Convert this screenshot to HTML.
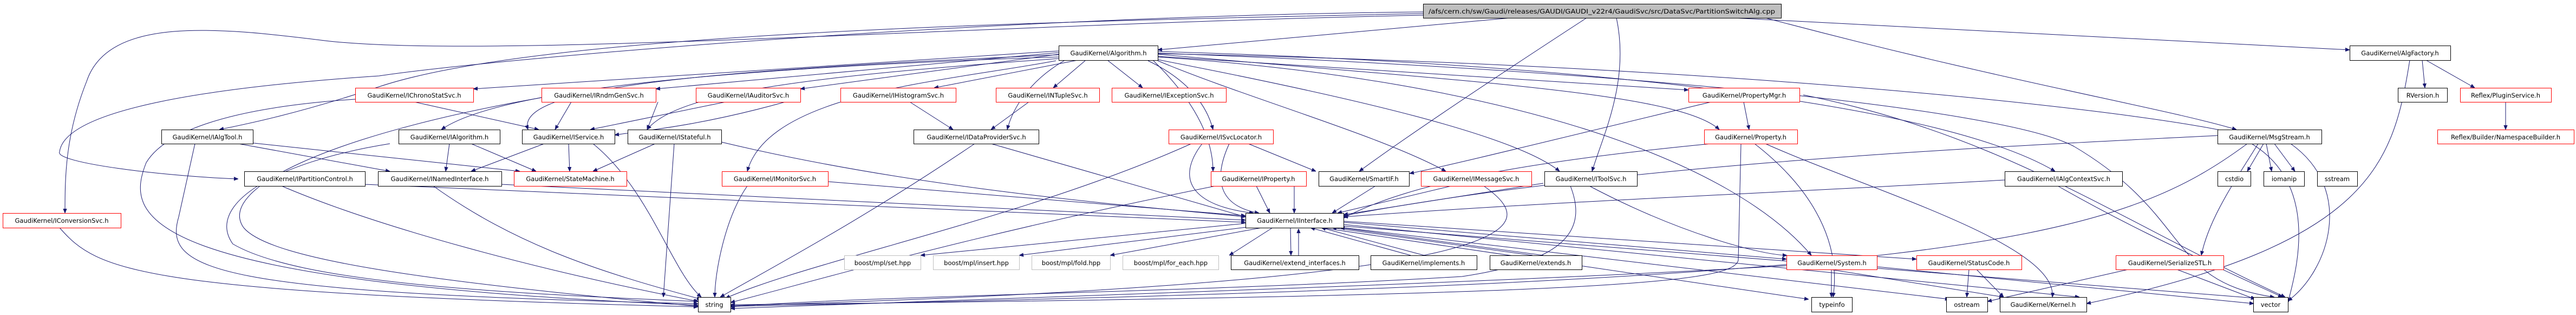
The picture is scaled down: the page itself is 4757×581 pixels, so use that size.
<!DOCTYPE html>
<html><head><meta charset="utf-8"><style>
html,body{margin:0;padding:0;background:#fff;}
svg{display:block;}
text{font-family:"DejaVu Sans","Liberation Sans",sans-serif;font-size:11.5px;fill:#000;}
.e{fill:none;stroke:#191970;stroke-width:1;}
.b{fill:#fff;stroke:#000;stroke-width:1;}
.r{fill:#fff;stroke:#f00;stroke-width:1;}
.g{fill:#fff;stroke:#bfbfbf;stroke-width:1;}
</style></head><body>
<svg width="4757" height="581" viewBox="0 0 4757 581" xmlns="http://www.w3.org/2000/svg">
<defs><marker id="a" viewBox="0 0 10 10" refX="10" refY="5" markerWidth="8" markerHeight="8" orient="auto" markerUnits="userSpaceOnUse"><path d="M0,1 L10,5 L0,9 z" fill="#191970" stroke="#191970"/></marker></defs>
<g class="e" marker-end="url(#a)">
<!-- main -->
<path d="M2790 33 L2138 92"/>
<path d="M3200 33 L4339 92"/>
<path d="M3260 33 C3700 150 4000 200 4130 239"/>
<path d="M2985 33 C3010 150 2960 250 2940 316"/>
<path d="M2930 33 C2750 150 2600 250 2510 316"/>
<path d="M2628 25 C1900 40 1000 60 700 160 C550 210 450 230 405 239"/>
<path d="M2628 28 C1800 45 900 110 600 75 C400 50 200 30 160 150 C120 250 120 330 120 393"/>
<path d="M2628 22 C1800 30 900 110 700 140 C400 160 120 200 110 280 C100 300 300 325 440 330"/>
<!-- Algorithm -->
<path d="M1955 94 L874 164"/>
<path d="M1955 97 L1211 164"/>
<path d="M1955 100 L1478 164"/>
<path d="M1990 111 L1725 162"/>
<path d="M2005 111 L1945 162"/>
<path d="M2045 111 L2110 162"/>
<path d="M2138 104 L3118 166"/>
<path d="M1955 105 C1200 130 900 180 815 239"/>
<path d="M1955 101 C1300 130 950 160 975 239"/>
<path d="M1955 108 C1500 140 1250 170 1195 239"/>
<path d="M1950 112 C1750 150 1420 170 1380 316"/>
<path d="M1965 112 C1900 150 1870 200 1860 239"/>
<path d="M2120 112 C2200 150 2230 200 2240 239"/>
<path d="M2130 112 C2200 180 2240 250 2240 316"/>
<path d="M2138 112 C2300 180 2550 250 2670 316"/>
<path d="M2138 110 C2500 180 2800 250 2880 316"/>
<path d="M2138 100 C2700 150 3100 170 3175 239"/>
<path d="M2138 95 C3000 120 3600 200 3795 316"/>
<path d="M2138 105 C2800 150 3200 300 3345 471"/>
<path d="M2138 98 C3000 130 3700 200 3830 270 C4050 400 4000 520 4200 548"/>
<path d="M2138 99 C3200 120 3900 200 4100 240 C4300 300 4240 500 4225 558"/>
<!-- row 2 -->
<path d="M3220 188 L3230 239"/>
<path d="M3160 188 C2900 250 2700 300 2603 320"/>
<path d="M3330 175 C3700 250 3900 400 4220 548"/>
<path d="M4473 111 L4478 162"/>
<path d="M4480 111 L4570 162"/>
<path d="M4627 188 L4627 239"/>
<path d="M4450 111 C4420 300 4380 450 3853 560"/>
<path d="M765 188 L995 239"/>
<path d="M1055 188 L1025 239"/>
<path d="M1340 188 L1090 239"/>
<path d="M1450 188 C1300 230 1200 240 1135 249"/>
<path d="M1215 188 L1195 239"/>
<path d="M1680 188 L1760 239"/>
<path d="M1900 188 L1830 239"/>
<path d="M656 183 C400 200 300 250 270 300 C230 400 250 520 1289 563"/>
<path d="M1000 180 C600 250 400 350 450 420 C500 480 800 520 1289 565"/>
<!-- row3 to row4 -->
<path d="M360 265 L330 400 C300 500 400 540 1289 560"/>
<path d="M440 265 L720 316"/>
<path d="M450 262 L960 316"/>
<path d="M830 265 L823 316"/>
<path d="M870 265 L990 316"/>
<path d="M720 265 C500 300 380 380 430 450 C550 520 900 540 1289 556"/>
<path d="M1005 265 L870 316"/>
<path d="M1050 265 L1052 316"/>
<path d="M1095 265 C1200 350 1240 500 1295 548"/>
<path d="M1210 265 L1095 316"/>
<path d="M1245 265 L1225 548"/>
<path d="M1332 262 C1700 350 2100 380 2300 400"/>
<path d="M1800 265 C1600 400 1450 480 1330 548"/>
<path d="M1830 265 L2300 400"/>
<path d="M2200 265 C1900 400 1500 480 1340 550"/>
<path d="M2220 265 C2170 330 2200 380 2315 393"/>
<path d="M2270 265 C2240 330 2250 380 2325 393"/>
<path d="M2305 265 L2430 316"/>
<path d="M3160 265 C2800 300 2600 340 2481 402"/>
<path d="M3215 265 L3210 480 C3200 520 3000 545 1349 562"/>
<path d="M3240 265 C3350 350 3400 450 3385 548"/>
<path d="M3260 265 C3450 350 3800 450 3790 548"/>
<path d="M4095 250 C3700 270 3000 300 2481 398"/>
<path d="M4150 265 C3900 450 3600 520 1349 565"/>
<path d="M4180 265 L4150 316"/>
<path d="M4185 265 L4195 316"/>
<path d="M4200 265 L4238 316"/>
<path d="M4170 265 C4130 330 4080 400 4065 471"/>
<path d="M4230 265 C4350 350 4300 500 4225 555"/>
<!-- row4 -->
<path d="M520 343 C700 420 1000 500 1290 556"/>
<path d="M674 340 L2300 410"/>
<path d="M800 343 C950 450 1100 500 1295 552"/>
<path d="M926 340 L2300 406"/>
<path d="M1380 343 C1340 400 1320 500 1320 548"/>
<path d="M1529 335 L2300 398"/>
<path d="M2320 343 L2345 393"/>
<path d="M2310 330 C1800 430 1500 520 1349 558"/>
<path d="M2390 343 L2390 393"/>
<path d="M2540 343 L2460 393"/>
<path d="M2680 343 L2470 393"/>
<path d="M2740 343 C2850 420 2860 520 1349 564"/>
<path d="M2850 338 L2481 396"/>
<path d="M2900 343 C2930 420 2900 480 2700 510 C2200 540 1600 545 1349 566"/>
<path d="M2935 343 C3100 430 3250 470 3300 471"/>
<path d="M3702 332 C3200 360 2900 370 2481 400"/>
<path d="M3800 343 C3900 400 4000 450 4215 548"/>
<path d="M110 420 C180 500 250 540 1289 566"/>
<!-- IInterface down -->
<path d="M2300 412 L1700 471"/>
<path d="M2310 418 L1882 471"/>
<path d="M2330 420 L2050 471"/>
<path d="M2350 420 L2270 471"/>
<path d="M2383 420 L2384 471"/>
<path d="M2398 475 L2398 422"/>
<path d="M2605 471 L2420 420"/>
<path d="M2830 471 L2460 420"/>
<path d="M2630 471 L2440 420"/>
<path d="M2850 471 L2475 420"/>
<path d="M2481 410 L3299 478"/>
<path d="M2481 408 L3539 478"/>
<path d="M2481 414 L3840 548"/>
<path d="M2481 417 L4165 550"/>
<path d="M2440 420 L3340 552"/>
<path d="M2481 420 L3600 552"/>
<!-- rows 5/6 -->
<path d="M3382 497 L3382 548"/>
<path d="M3380 497 L3700 548"/>
<path d="M3466 492 L4162 560"/>
<path d="M3300 490 C2800 520 2000 545 1349 569"/>
<path d="M3636 497 L3632 548"/>
<path d="M3650 497 L3700 548"/>
<path d="M3930 497 L3670 556"/>
<path d="M4020 497 L4165 552"/>
</g>
<!-- nodes -->
<g>
<rect class="b" x="2628.5" y="7.5" width="661" height="26" style="fill:#bfbfbf"/>
<text x="2958" y="25" text-anchor="middle" textLength="640" lengthAdjust="spacingAndGlyphs">/afs/cern.ch/sw/Gaudi/releases/GAUDI/GAUDI_v22r4/GaudiSvc/src/DataSvc/PartitionSwitchAlg.cpp</text>

<rect class="b" x="1955.5" y="84.5" width="183" height="27"/><text x="2047" y="102" text-anchor="middle">GaudiKernel/Algorithm.h</text>
<rect class="b" x="4339.5" y="84.5" width="186" height="27"/><text x="4432" y="102" text-anchor="middle">GaudiKernel/AlgFactory.h</text>

<rect class="r" x="656.5" y="162.5" width="218" height="26"/><text x="765" y="180" text-anchor="middle">GaudiKernel/IChronoStatSvc.h</text>
<rect class="r" x="1000.5" y="162.5" width="211" height="26"/><text x="1106" y="180" text-anchor="middle">GaudiKernel/IRndmGenSvc.h</text>
<rect class="r" x="1285.5" y="162.5" width="193" height="26"/><text x="1382" y="180" text-anchor="middle">GaudiKernel/IAuditorSvc.h</text>
<rect class="r" x="1552.5" y="162.5" width="213" height="26"/><text x="1659" y="180" text-anchor="middle">GaudiKernel/IHistogramSvc.h</text>
<rect class="r" x="1839.5" y="162.5" width="191" height="26"/><text x="1935" y="180" text-anchor="middle">GaudiKernel/INTupleSvc.h</text>
<rect class="r" x="2053.5" y="162.5" width="211" height="26"/><text x="2159" y="180" text-anchor="middle">GaudiKernel/IExceptionSvc.h</text>
<rect class="r" x="3118.5" y="162.5" width="205" height="26"/><text x="3221" y="180" text-anchor="middle">GaudiKernel/PropertyMgr.h</text>
<rect class="b" x="4428.5" y="162.5" width="91" height="26"/><text x="4474" y="180" text-anchor="middle">RVersion.h</text>
<rect class="r" x="4543.5" y="162.5" width="168" height="26"/><text x="4627" y="180" text-anchor="middle">Reflex/PluginService.h</text>

<rect class="b" x="298.5" y="239.5" width="169" height="26"/><text x="383" y="257" text-anchor="middle">GaudiKernel/IAlgTool.h</text>
<rect class="b" x="736.5" y="239.5" width="187" height="26"/><text x="830" y="257" text-anchor="middle">GaudiKernel/IAlgorithm.h</text>
<rect class="b" x="964.5" y="239.5" width="171" height="26"/><text x="1050" y="257" text-anchor="middle">GaudiKernel/IService.h</text>
<rect class="b" x="1159.5" y="239.5" width="173" height="26"/><text x="1246" y="257" text-anchor="middle">GaudiKernel/IStateful.h</text>
<rect class="b" x="1687.5" y="239.5" width="231" height="26"/><text x="1803" y="257" text-anchor="middle">GaudiKernel/IDataProviderSvc.h</text>
<rect class="r" x="2158.5" y="239.5" width="193" height="26"/><text x="2255" y="257" text-anchor="middle">GaudiKernel/ISvcLocator.h</text>
<rect class="r" x="3147.5" y="239.5" width="172" height="26"/><text x="3233" y="257" text-anchor="middle">GaudiKernel/Property.h</text>
<rect class="b" x="4095.5" y="239.5" width="192" height="26"/><text x="4191" y="257" text-anchor="middle">GaudiKernel/MsgStream.h</text>
<rect class="r" x="4501.5" y="239.5" width="252" height="26"/><text x="4627" y="257" text-anchor="middle">Reflex/Builder/NamespaceBuilder.h</text>

<rect class="b" x="451.5" y="316.5" width="223" height="27"/><text x="563" y="334" text-anchor="middle">GaudiKernel/IPartitionControl.h</text>
<rect class="b" x="698.5" y="316.5" width="228" height="27"/><text x="812" y="334" text-anchor="middle">GaudiKernel/INamedInterface.h</text>
<rect class="r" x="949.5" y="316.5" width="208" height="27"/><text x="1053" y="334" text-anchor="middle">GaudiKernel/StateMachine.h</text>
<rect class="r" x="1333.5" y="316.5" width="196" height="27"/><text x="1431" y="334" text-anchor="middle">GaudiKernel/IMonitorSvc.h</text>
<rect class="r" x="2236.5" y="316.5" width="176" height="27"/><text x="2324" y="334" text-anchor="middle">GaudiKernel/IProperty.h</text>
<rect class="b" x="2435.5" y="316.5" width="167" height="27"/><text x="2519" y="334" text-anchor="middle">GaudiKernel/SmartIF.h</text>
<rect class="r" x="2624.5" y="316.5" width="204" height="27"/><text x="2726" y="334" text-anchor="middle">GaudiKernel/IMessageSvc.h</text>
<rect class="b" x="2852.5" y="316.5" width="171" height="27"/><text x="2938" y="334" text-anchor="middle">GaudiKernel/IToolSvc.h</text>
<rect class="b" x="3702.5" y="316.5" width="217" height="27"/><text x="3811" y="334" text-anchor="middle">GaudiKernel/IAlgContextSvc.h</text>
<rect class="b" x="4095.5" y="316.5" width="61" height="27"/><text x="4126" y="334" text-anchor="middle">cstdio</text>
<rect class="b" x="4180.5" y="316.5" width="75" height="27"/><text x="4218" y="334" text-anchor="middle">iomanip</text>
<rect class="b" x="4279.5" y="316.5" width="74" height="27"/><text x="4316" y="334" text-anchor="middle">sstream</text>

<rect class="r" x="5.5" y="393.5" width="218" height="27"/><text x="114" y="411" text-anchor="middle">GaudiKernel/IConversionSvc.h</text>
<rect class="b" x="2300.5" y="393.5" width="181" height="27"/><text x="2391" y="411" text-anchor="middle">GaudiKernel/IInterface.h</text>

<rect class="g" x="1559.5" y="471.5" width="141" height="26"/><text x="1630" y="489" text-anchor="middle">boost/mpl/set.hpp</text>
<rect class="g" x="1723.5" y="471.5" width="159" height="26"/><text x="1803" y="489" text-anchor="middle">boost/mpl/insert.hpp</text>
<rect class="g" x="1905.5" y="471.5" width="145" height="26"/><text x="1978" y="489" text-anchor="middle">boost/mpl/fold.hpp</text>
<rect class="g" x="2073.5" y="471.5" width="177" height="26"/><text x="2162" y="489" text-anchor="middle">boost/mpl/for_each.hpp</text>
<rect class="b" x="2273.5" y="471.5" width="236" height="26"/><text x="2391" y="489" text-anchor="middle">GaudiKernel/extend_interfaces.h</text>
<rect class="b" x="2531.5" y="471.5" width="196" height="26"/><text x="2629" y="489" text-anchor="middle">GaudiKernel/implements.h</text>
<rect class="b" x="2751.5" y="471.5" width="170" height="26"/><text x="2836" y="489" text-anchor="middle">GaudiKernel/extends.h</text>
<rect class="r" x="3299.5" y="471.5" width="167" height="26"/><text x="3383" y="489" text-anchor="middle">GaudiKernel/System.h</text>
<rect class="r" x="3539.5" y="471.5" width="194" height="26"/><text x="3636" y="489" text-anchor="middle">GaudiKernel/StatusCode.h</text>
<rect class="r" x="3907.5" y="471.5" width="199" height="26"/><text x="4007" y="489" text-anchor="middle">GaudiKernel/SerializeSTL.h</text>

<rect class="b" x="1289.5" y="548.5" width="60" height="27"/><text x="1319" y="566" text-anchor="middle">string</text>
<rect class="b" x="3345.5" y="548.5" width="75" height="27"/><text x="3383" y="566" text-anchor="middle">typeinfo</text>
<rect class="b" x="3594.5" y="548.5" width="76" height="27"/><text x="3632" y="566" text-anchor="middle">ostream</text>
<rect class="b" x="3693.5" y="548.5" width="160" height="27"/><text x="3773" y="566" text-anchor="middle">GaudiKernel/Kernel.h</text>
<rect class="b" x="4161.5" y="548.5" width="64" height="27"/><text x="4193" y="566" text-anchor="middle">vector</text>
</g>
</svg>
</body></html>
